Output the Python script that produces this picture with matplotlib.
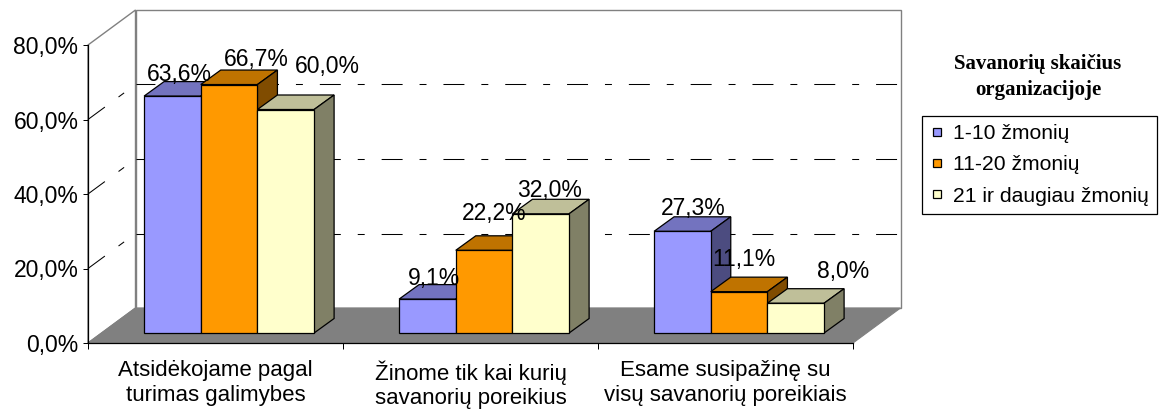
import matplotlib
matplotlib.use('Agg')
import matplotlib.pyplot as plt
from matplotlib.patches import Polygon, Rectangle
from matplotlib.lines import Line2D
from matplotlib.ticker import FuncFormatter

# ---------------- data ----------------
categories = ["Atsidėkojame pagal\nturimas galimybes",
              "Žinome tik kai kurių\nsavanorių poreikius",
              "Esame susipažinę su\nvisų savanorių poreikiais"]
series_names = ["1-10 žmonių", "11-20 žmonių", "21 ir daugiau žmonių"]
vals_1_10 = [63.6, 9.1, 27.3]
vals_11_20 = [66.7, 22.2, 11.1]
vals_21_plus = [60.0, 32.0, 8.0]
y_ticks = [0, 20, 40, 60, 80]
legend_title = ["Savanorių skaičius", "organizacijoje"]

# ---------------- style ----------------
front_colors = ['#9999FF', '#FF9900', '#FFFFCC']
top_colors = ['#7373BF', '#BF7300', '#BFBF99']
side_colors = ['#4C4C80', '#804C00', '#808066']
# label offsets (pixels) per series, per category
label_offsets = [[(6.6, 15.4), (6.9, 14.4), (10.9, 16.6)],
                 [(27.5, 18.1), (9.6, 30.6), (5.0, 25.3)],
                 [(41.4, 36.5), (8.8, 17.1), (46.9, 25.2)]]

plt.rcParams['font.family'] = ['Liberation Sans', 'DejaVu Sans']
plt.rcParams['lines.scale_dashes'] = False
FS_TICK = 16.5
FS_LAB = 16.5
FS_CAT = 16
FS_LEG = 15.2

W_PX, H_PX = 1163, 409
fig = plt.figure(figsize=(W_PX / 100, H_PX / 100), dpi=100)
ax_l, ax_r, ax_t, ax_b = 88, 853, 45, 343
ax = fig.add_axes([ax_l / W_PX, (H_PX - ax_b) / H_PX,
                   (ax_r - ax_l) / W_PX, (ax_b - ax_t) / H_PX])
ax.set_xlim(0, 3)
ax.set_ylim(0, 80)
ax.patch.set_visible(False)

PX = (ax_r - ax_l) / 3.0      # px per category unit
PY = (ax_b - ax_t) / 80.0     # px per percent

# 3D offsets (converted from pixels to data units)
BX, BY = 47.5 / PX, 35.0 / PY     # back wall
FX, FY = 13.6 / PX, 10.0 / PY     # bar front plane
DX, DY = 20.0 / PX, 14.5 / PY     # bar depth
W = 1 / 4.5
inset = 0.75 * W

wall_c = '#808080'
# back wall
ax.add_patch(Rectangle((BX, BY), 3, 80, fc='white', ec=wall_c, lw=1.0,
                       clip_on=False, zorder=1))
# left wall
ax.add_patch(Polygon([(0, 0), (BX, BY), (BX, 80 + BY), (0, 80)], closed=True,
                     fc='white', ec=wall_c, lw=1.0, clip_on=False, zorder=1))
# floor
ax.add_patch(Polygon([(0, 0), (3, 0), (3 + BX, BY), (BX, BY)], closed=True,
                     fc='#808080', ec='#808080', lw=0.8, clip_on=False, zorder=1.5))

# gridlines on walls
dash = (15.1, 12.2, 5.0, 12.2)
for v in y_ticks[1:-1]:
    ax.plot([BX, 3 + BX], [v + BY, v + BY], color='black', lw=0.75,
            linestyle=(1.5, dash), clip_on=False, zorder=1.2)
    ax.plot([0, BX], [v, v + BY], color='black', lw=0.75,
            linestyle=(0, dash), clip_on=False, zorder=1.2)

# axes spines / ticks
for s in ['top', 'right']:
    ax.spines[s].set_visible(False)
for s in ['left', 'bottom']:
    ax.spines[s].set_color('black')
    ax.spines[s].set_linewidth(0.9)
    ax.spines[s].set_zorder(2)

ax.set_yticks(y_ticks)
ax.yaxis.set_major_formatter(FuncFormatter(lambda v, p: f"{v:.1f}".replace('.', ',') + '%'))
ax.tick_params(axis='y', direction='out', length=3.6, width=0.72, pad=3.3,
               labelsize=FS_TICK, colors='black')
ax.set_xticks([0, 1, 2, 3])
ax.set_xticklabels([])
ax.set_xticks([0.5, 1.5, 2.5], minor=True)
ax.set_xticklabels(categories, minor=True)
ax.tick_params(axis='x', which='major', direction='out', length=4.3, width=0.72)
ax.tick_params(axis='x', which='minor', length=0, pad=12.5, labelsize=FS_CAT)

# bars
series = [vals_1_10, vals_11_20, vals_21_plus]
for s, vals in enumerate(series):
    xs = [g + inset + s * W + FX for g in range(len(categories))]
    bars = ax.bar(xs, vals, width=W, bottom=FY, align='edge',
                  color=front_colors[s], edgecolor='black', lw=0.9)
    for g, rect in enumerate(bars):
        order = 10 + (g * 3 + s) * 3
        xl = rect.get_x()
        xr = xl + rect.get_width()
        yb = rect.get_y()
        yt = yb + rect.get_height()
        rect.set_zorder(order + 2)
        rect.set_clip_on(False)
        ax.add_patch(Polygon([(xl, yt), (xr, yt), (xr + DX, yt + DY), (xl + DX, yt + DY)],
                             closed=True, fc=top_colors[s], ec='black', lw=0.9,
                             clip_on=False, zorder=order))
        ax.add_patch(Polygon([(xr, yb), (xr + DX, yb + DY), (xr + DX, yt + DY), (xr, yt)],
                             closed=True, fc=side_colors[s], ec='black', lw=0.9,
                             clip_on=False, zorder=order + 1))
        odx, ody = label_offsets[s][g]
        ax.annotate(f"{vals[g]:.1f}".replace('.', ',') + '%',
                    xy=((xl + xr) / 2, yt), xytext=(odx, ody),
                    textcoords='offset pixels', ha='center', va='baseline',
                    fontsize=FS_LAB, zorder=100, annotation_clip=False)

# legend title
fig.text(1038 / W_PX, 1 - 69.3 / H_PX, legend_title[0], ha='center', va='baseline',
         family='Liberation Serif', weight='bold', fontsize=15)
fig.text(1038 / W_PX, 1 - 95.0 / H_PX, legend_title[1], ha='center', va='baseline',
         family='Liberation Serif', weight='bold', fontsize=15)

handles = [Line2D([], [], linestyle='none', marker='s', markersize=6,
                  markerfacecolor=front_colors[i], markeredgecolor='black',
                  markeredgewidth=0.9) for i in range(3)]
leg = fig.legend(handles, series_names, loc='upper left',
                 bbox_to_anchor=(921.7 / W_PX, 1 - 116 / H_PX),
                 bbox_transform=fig.transFigure, borderaxespad=0,
                 fontsize=FS_LEG, handlelength=0.66, handleheight=0.7,
                 handletextpad=0.43, borderpad=0.4, labelspacing=0.57,
                 fancybox=False, framealpha=1, edgecolor='black')
leg.get_frame().set_linewidth(0.9)

fig.savefig('out.png', dpi=100)
